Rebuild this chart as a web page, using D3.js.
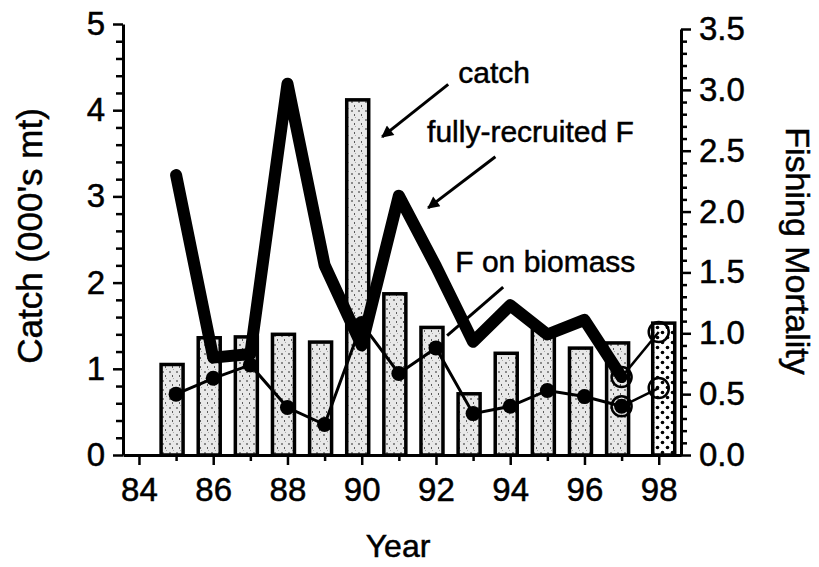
<!DOCTYPE html>
<html>
<head>
<meta charset="utf-8">
<script src="https://cdn.jsdelivr.net/npm/d3@7"></script>
<style>
  body { margin: 0; background: #fff; }
  svg { font-family: "Liberation Sans", Arial, Helvetica, sans-serif; }
  svg text { stroke: #000; stroke-width: 0.5px; }
  .axis path, .axis line { stroke: #000; }
  .axis text { font-size: 33px; fill: #000; }
</style>
</head>
<body>
<svg width="819" height="567"></svg>
<script>
// catch bars, 1985-1998 (000's mt)
var years = [85, 86, 87, 88, 89, 90, 91, 92, 93, 94, 95, 96, 97, 98];
var catchK = [1.05, 1.36, 1.37, 1.4, 1.31, 4.12, 1.87, 1.48, 0.71, 1.18, 1.45, 1.24, 1.3, 1.53];

// fishing mortality, 1985-1997
var fYears = [85, 86, 87, 88, 89, 90, 91, 92, 93, 94, 95, 96, 97];
var fullF = [2.3, 0.8, 0.83, 3.05, 1.56, 0.9, 2.13, 1.55, 0.93, 1.23, 0.99, 1.11, 0.64];
var biomassF = [0.5, 0.63, 0.74, 0.39, 0.25, 1.08, 0.67, 0.88, 0.34, 0.4, 0.53, 0.48, 0.4];

// projection 1997-1998 (open circles)
var projYears = [97, 98];
var projFullF = [0.64, 1.01];
var projBiomassF = [0.4, 0.55];

var xTickYears = d3.range(84, 99);
var rightTicks = [0, 0.5, 1, 1.5, 2, 2.5, 3, 3.5];

var svg = d3.select("svg");

var x = d3.scaleLinear().domain([83.57, 98.6]).range([123, 681]),
    yL = d3.scaleLinear().domain([0, 5]).range([455, 24]),
    yR = d3.scaleLinear().domain([0, 3.5]).range([455, 29]);

// fill patterns
var defs = svg.append("defs");
var speck = defs.append("pattern").attr("id", "speck")
    .attr("patternUnits", "userSpaceOnUse").attr("width", 7).attr("height", 9);
speck.append("rect").attr("width", 7).attr("height", 9).attr("fill", "#e8e8e8");
speck.append("rect").attr("x", 1).attr("y", 2).attr("width", 2).attr("height", 2).attr("fill", "#8a8a8a");
speck.append("rect").attr("x", 4).attr("y", 6).attr("width", 1).attr("height", 2).attr("fill", "#5a5a5a");
speck.append("rect").attr("x", 5).attr("y", 0).attr("width", 1).attr("height", 1).attr("fill", "#aaa");

var dots = defs.append("pattern").attr("id", "dots")
    .attr("patternUnits", "userSpaceOnUse").attr("width", 10).attr("height", 10);
dots.append("rect").attr("width", 10).attr("height", 10).attr("fill", "#fff");
dots.append("circle").attr("cx", 2.5).attr("cy", 2.5).attr("r", 1.8).attr("fill", "#000");
dots.append("circle").attr("cx", 7.5).attr("cy", 7.5).attr("r", 1.8).attr("fill", "#000");

defs.append("marker").attr("id", "arrow")
    .attr("viewBox", "0 0 10 10").attr("refX", 9).attr("refY", 5)
    .attr("markerWidth", 5).attr("markerHeight", 4).attr("markerUnits", "strokeWidth")
    .attr("orient", "auto")
  .append("path").attr("d", "M0,0L10,5L0,10z").attr("fill", "#000");

// bars
var barW = 22;
svg.append("g").selectAll("rect")
  .data(years.map(function(y, i) { return {year: y, v: catchK[i]}; }))
  .enter().append("rect")
    .attr("x", function(d) { return x(d.year) - barW / 2 + (d.year === 98 ? 5 : -4); })
    .attr("y", function(d) { return yL(d.v); })
    .attr("width", barW)
    .attr("height", function(d) { return yL(0) - yL(d.v); })
    .attr("fill", function(d) { return d.year === 98 ? "url(#dots)" : "url(#speck)"; })
    .attr("stroke", "#000")
    .attr("stroke-width", 3.5);

// fully-recruited F (thick)
var lineR = d3.line()
    .x(function(d) { return x(d[0]); })
    .y(function(d) { return yR(d[1]); });

svg.append("path")
    .attr("d", lineR(fYears.map(function(y, i) { return [y, fullF[i]]; })))
    .attr("fill", "none").attr("stroke", "#000")
    .attr("stroke-width", 12).attr("stroke-linejoin", "round").attr("stroke-linecap", "round");

// F on biomass (thin with dots)
var bio = fYears.map(function(y, i) { return [y, biomassF[i]]; });
svg.append("path")
    .attr("d", lineR(bio))
    .attr("fill", "none").attr("stroke", "#000").attr("stroke-width", 3);

svg.append("g").selectAll("circle")
  .data(bio)
  .enter().append("circle")
    .attr("cx", function(d) { return x(d[0]); })
    .attr("cy", function(d) { return yR(d[1]); })
    .attr("r", 7.5).attr("fill", "#000");

// projections
[projFullF, projBiomassF].forEach(function(vals) {
  var pts = projYears.map(function(y, i) { return [y, vals[i]]; });
  svg.append("path")
      .attr("d", lineR(pts))
      .attr("fill", "none").attr("stroke", "#000").attr("stroke-width", 2.5);
  svg.append("g").selectAll("circle")
    .data(pts)
    .enter().append("circle")
      .attr("cx", function(d) { return x(d[0]); })
      .attr("cy", function(d) { return yR(d[1]); })
      .attr("r", 10).attr("fill", "none").attr("stroke", "#000").attr("stroke-width", 2.5);
});

// axes
var gx = svg.append("g").attr("class", "axis")
    .attr("transform", "translate(0," + yL(0) + ")")
    .call(d3.axisBottom(x).tickValues(xTickYears).tickSize(10).tickSizeOuter(0).tickPadding(13)
      .tickFormat(function(d) { return d % 2 === 0 ? d : ""; }));
gx.select(".domain").attr("stroke-width", 3);
gx.selectAll(".tick line").attr("stroke-width", 2.5)
    .attr("y2", function(d) { return d % 2 === 0 ? 10 : 6; });

var gl = svg.append("g").attr("class", "axis")
    .attr("transform", "translate(" + x.range()[0] + ",0)")
    .call(d3.axisLeft(yL).tickValues(d3.range(0, 5.01, 0.2)).tickSize(7).tickSizeOuter(0).tickPadding(11)
      .tickFormat(function(d) { return Math.abs(d - Math.round(d)) < 1e-6 ? d3.format("d")(Math.round(d)) : ""; }));
gl.select(".domain").attr("stroke-width", 3);
gl.selectAll(".tick line").attr("stroke-width", 2.5)
    .attr("x2", function(d) { return Math.abs(d - Math.round(d)) < 1e-6 ? -10 : -7; });

var isMajorR = function(d) { return rightTicks.some(function(t) { return Math.abs(t - d) < 1e-6; }); };
var gr = svg.append("g").attr("class", "axis")
    .attr("transform", "translate(" + x.range()[1] + ",0)")
    .call(d3.axisRight(yR).tickValues(d3.range(0, 3.51, 0.1)).tickSize(6).tickSizeOuter(0).tickPadding(12)
      .tickFormat(function(d) { return isMajorR(d) ? d3.format(".1f")(d) : ""; }));
gr.select(".domain").attr("stroke-width", 3);
gr.selectAll(".tick line").attr("stroke-width", 2.5)
    .attr("x2", function(d) { return isMajorR(d) ? 10 : 6; });

// axis titles
svg.append("text")
    .attr("transform", "translate(42,236) rotate(-90)")
    .attr("text-anchor", "middle").style("font-size", "35px")
    .text("Catch (000's mt)");

svg.append("text")
    .attr("transform", "translate(786,251) rotate(90)")
    .attr("text-anchor", "middle").style("font-size", "34px")
    .text("Fishing Mortality");

svg.append("text")
    .attr("x", 398).attr("y", 557)
    .attr("text-anchor", "middle").style("font-size", "32px")
    .text("Year");

// annotations
var notes = [
  {text: "catch", tx: x(92.6), ty: yL(4.31), from: [x(92.33), yL(4.3)], to: [x(90.55), yL(3.69)], arrow: true},
  {text: "fully-recruited F", tx: x(91.76), ty: yR(2.57), from: [x(93.6), yR(2.45)], to: [x(91.79), yR(2.03)], arrow: true},
  {text: "F on biomass", tx: x(92.52), ty: yR(1.5), from: [x(93.81), yR(1.38)], to: [x(92.3), yR(0.98)], arrow: false}
];

notes.forEach(function(n) {
  svg.append("text")
      .attr("x", n.tx).attr("y", n.ty)
      .style("font-size", "30px")
      .text(n.text);
  var ln = svg.append("line")
      .attr("x1", n.from[0]).attr("y1", n.from[1])
      .attr("x2", n.to[0]).attr("y2", n.to[1])
      .attr("stroke", "#000").attr("stroke-width", 3);
  if (n.arrow) ln.attr("marker-end", "url(#arrow)");
});
</script>
</body>
</html>
